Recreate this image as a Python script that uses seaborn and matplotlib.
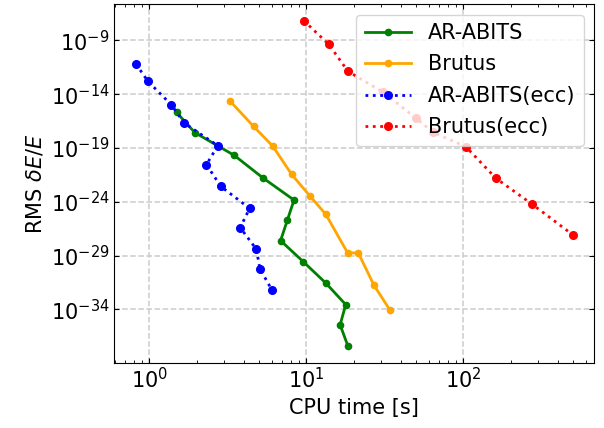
import matplotlib
matplotlib.use("Agg")
import matplotlib.pyplot as plt
import seaborn as sns
import pandas as pd

# ---- data ----
abits_t = [1.49, 1.95, 3.47, 5.29, 8.34, 7.57, 6.85, 9.57, 13.3, 17.8, 16.4, 18.4]
abits_e = [10**-15.69, 10**-17.57, 10**-19.68, 10**-21.78, 10**-23.84,
           10**-25.69, 10**-27.61, 10**-29.58, 10**-31.56, 10**-33.56, 10**-35.44, 10**-37.43]

brutus_t = [3.27, 4.61, 6.12, 8.06, 10.5, 13.3, 18.3, 21.4, 26.9, 33.9]
brutus_e = [10**-14.65, 10**-16.99, 10**-18.84, 10**-21.46, 10**-23.44,
            10**-25.17, 10**-28.75, 10**-28.75, 10**-31.74, 10**-34.03]

abits_ecc_t = [0.822, 0.98, 1.38, 1.67, 2.73, 2.31, 2.85, 4.35, 3.79, 4.80, 5.06, 6.03]
abits_ecc_e = [10**-11.19, 10**-12.8, 10**-14.98, 10**-16.69, 10**-18.78, 10**-20.54,
               10**-22.57, 10**-24.61, 10**-26.4, 10**-28.41, 10**-30.23, 10**-32.2]

brutus_ecc_t = [9.61, 13.9, 18.4, 30.8, 49.6, 63.7, 103.5, 160.8, 273, 495]
brutus_ecc_e = [10**-7.15, 10**-9.37, 10**-11.87, 10**-13.81, 10**-16.19, 10**-17.52,
                10**-18.87, 10**-21.81, 10**-24.21, 10**-27.05]

labels = ["AR-ABITS", "Brutus", "AR-ABITS(ecc)", "Brutus(ecc)"]
colors = ["green", "orange", "blue", "red"]

series = [
    (abits_t, abits_e, "-", 4.5),
    (brutus_t, brutus_e, "-", 4.5),
    (abits_ecc_t, abits_ecc_e, ":", 5.5),
    (brutus_ecc_t, brutus_ecc_e, ":", 5.5),
]

plt.rcParams["font.family"] = ["DejaVu Sans"]
plt.rcParams["font.size"] = 15

fig = plt.figure(figsize=(6.04, 4.28), dpi=100)
ax = fig.add_axes([0.189, 0.153, 0.795, 0.837])
ax.set_xscale("log")
ax.set_yscale("log")

for (t, e, ls, ms), lab, col in zip(series, labels, colors):
    df = pd.DataFrame({"t": t, "e": e})
    sns.lineplot(data=df, x="t", y="e", sort=False, estimator=None, ax=ax,
                 color=col, linestyle=ls, linewidth=2, marker="o",
                 markersize=ms, markeredgecolor=col, markeredgewidth=1,
                 label=lab)

ax.grid(True, which="major", linestyle="--", color="#cccccc", linewidth=1.1)
ax.set_axisbelow(True)
ax.tick_params(which="both", direction="in", top=True, right=True, labelsize=15)
ax.yaxis.set_minor_locator(matplotlib.ticker.NullLocator())
ax.set_xlabel("CPU time [s]", fontsize=15)
ax.set_ylabel(r"RMS $\delta E/E$", fontsize=15)
ax.legend(loc="upper right", fontsize=15, handlelength=2.25, labelspacing=0.55)

fig.savefig("out.png", dpi=100)
